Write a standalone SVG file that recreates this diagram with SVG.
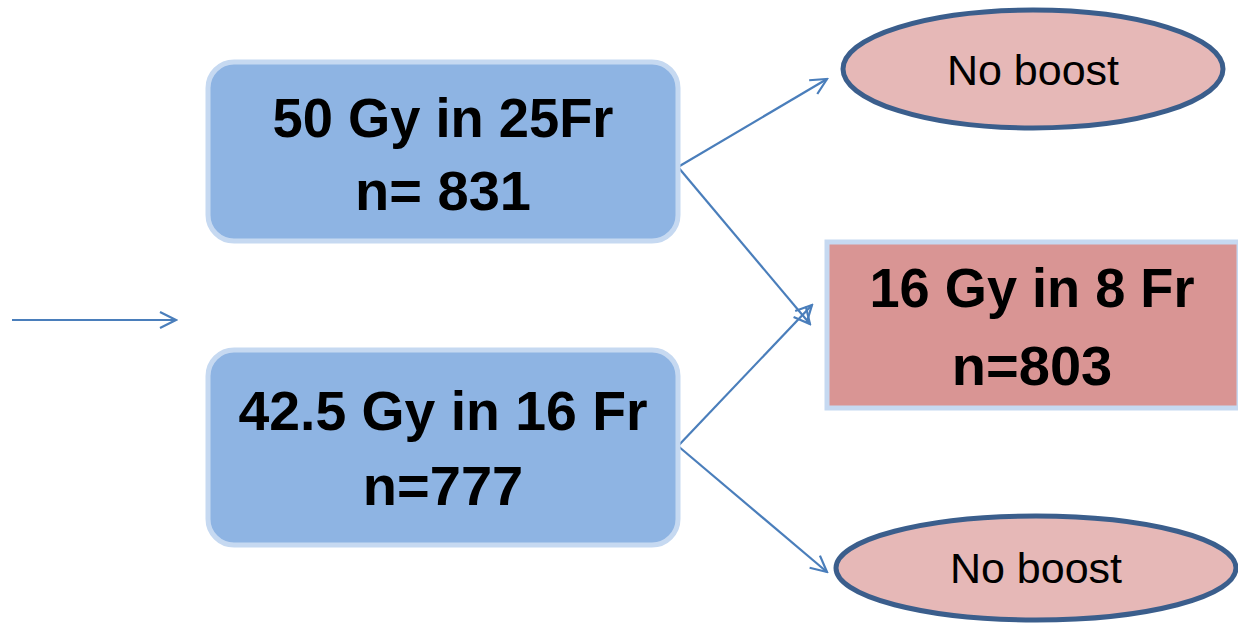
<svg xmlns="http://www.w3.org/2000/svg" width="1238" height="623" viewBox="0 0 1238 623">
<style>
.box{fill:#8eb4e3;stroke:#c6d9f1;stroke-width:5}
.red{fill:#d99594;stroke:#c6d9f1;stroke-width:5}
.ell{fill:#e6b8b7;stroke:#3b5e8c;stroke-width:5}
.big{font-family:"Liberation Sans",Arial,sans-serif;font-weight:bold;font-size:56px;fill:#000;text-anchor:middle}
.reg{font-family:"Liberation Sans",Arial,sans-serif;font-size:43px;fill:#000;text-anchor:middle}
.con{stroke:#4a7ebb;stroke-width:2.2;fill:none}
</style>
<defs>
<marker id="ah" viewBox="0 0 20 20" refX="18" refY="10" markerWidth="20" markerHeight="20" markerUnits="userSpaceOnUse" orient="auto">
<path d="M2,2 L18,10 L2,18" fill="none" stroke="#4a7ebb" stroke-width="2.2"/>
</marker>
</defs>
<g id="connectors">
<line class="con" x1="12" y1="320" x2="176" y2="320" marker-end="url(#ah)"/>
<line class="con" x1="678" y1="167" x2="827" y2="79" marker-end="url(#ah)"/>
<line class="con" x1="678" y1="167" x2="810" y2="324" marker-end="url(#ah)"/>
<line class="con" x1="678" y1="446" x2="812" y2="305" marker-end="url(#ah)"/>
<line class="con" x1="678" y1="446" x2="827" y2="572" marker-end="url(#ah)"/>
</g>
<g id="box1">
<rect class="box" x="208" y="62" width="470" height="179" rx="26"/>
<text class="big" x="443" y="137" textLength="341" lengthAdjust="spacingAndGlyphs">50 Gy in 25Fr</text>
<text class="big" x="443" y="210">n= 831</text>
</g>
<g id="box2">
<rect class="box" x="208" y="350" width="470" height="195" rx="26"/>
<text class="big" x="443" y="430" textLength="409" lengthAdjust="spacingAndGlyphs">42.5 Gy in 16 Fr</text>
<text class="big" x="443" y="505">n=777</text>
</g>
<g id="box3">
<rect class="red" x="827" y="242" width="412" height="166"/>
<text class="big" x="1032" y="307" textLength="325" lengthAdjust="spacingAndGlyphs">16 Gy in 8 Fr</text>
<text class="big" x="1032" y="385">n=803</text>
</g>
<g id="noboost1">
<ellipse class="ell" cx="1033" cy="69" rx="190" ry="59"/>
<text class="reg" x="1033" y="85">No boost</text>
</g>
<g id="noboost2">
<ellipse class="ell" cx="1036" cy="568" rx="200" ry="52"/>
<text class="reg" x="1036" y="583">No boost</text>
</g>
</svg>
